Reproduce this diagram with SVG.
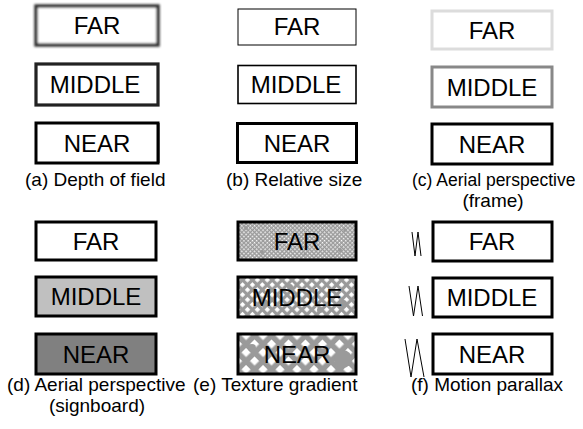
<svg xmlns="http://www.w3.org/2000/svg" width="583" height="429" viewBox="0 0 583 429">
<defs>
<style>
.lbl{font-family:"Liberation Sans",Arial,sans-serif;font-size:24px;fill:#000;text-anchor:middle}
.cap{font-family:"Liberation Sans",Arial,sans-serif;font-size:19px;fill:#000}
.capm{font-family:"Liberation Sans",Arial,sans-serif;font-size:19px;fill:#000;text-anchor:middle}
.box{fill:#fff;stroke:#000;stroke-width:3}
.zz{fill:none;stroke:#000;stroke-width:1}
</style>
<filter id="b1" x="-10%" y="-20%" width="120%" height="140%"><feGaussianBlur stdDeviation="1.1"/></filter>
<filter id="b2" x="-10%" y="-20%" width="120%" height="140%"><feGaussianBlur stdDeviation="0.7"/></filter>
<filter id="b3" x="-10%" y="-20%" width="120%" height="140%"><feGaussianBlur stdDeviation="0.35"/></filter>
<pattern id="t1" width="3" height="3" patternUnits="userSpaceOnUse" patternTransform="rotate(45)">
<rect width="3" height="3" fill="#9a9a9a"/><rect width="1.5" height="1.5" fill="#fff"/>
</pattern>
<pattern id="t2" width="7" height="7" patternUnits="userSpaceOnUse" patternTransform="rotate(45)">
<rect width="7" height="7" fill="#9a9a9a"/><rect width="3.8" height="3.8" fill="#fff"/>
</pattern>
<pattern id="t3" width="12" height="12" patternUnits="userSpaceOnUse" patternTransform="rotate(45)">
<rect width="12" height="12" fill="#9a9a9a"/><rect width="6.5" height="6.5" fill="#fff"/>
</pattern>
</defs>

<!-- (a) Depth of field -->
<g id="a-far">
<rect x="36" y="6" width="122" height="39" fill="#fff" stroke="#333" stroke-width="3.5" filter="url(#b1)"/>
<line x1="158.5" y1="6" x2="158.5" y2="45" stroke="#333" stroke-width="2" filter="url(#b1)"/>
<text class="lbl" x="97" y="34">FAR</text>
</g>
<g id="a-middle">
<rect x="36" y="64" width="122" height="41" fill="#fff" stroke="#222" stroke-width="3.2" filter="url(#b2)"/>
<line x1="158.5" y1="64" x2="158.5" y2="105" stroke="#222" stroke-width="2" filter="url(#b2)"/>
<text class="lbl" x="95" y="93">MIDDLE</text>
</g>
<g id="a-near">
<rect x="36" y="123" width="122" height="40" fill="#fff" stroke="#000" stroke-width="3" filter="url(#b3)"/>
<line x1="158.5" y1="123" x2="158.5" y2="163" stroke="#000" stroke-width="2"/>
<text class="lbl" x="97" y="152">NEAR</text>
</g>
<text class="cap" x="25" y="186">(a) Depth of field</text>

<!-- (b) Relative size -->
<g id="b-far">
<rect x="238" y="9" width="118" height="36" fill="#fff" stroke="#000" stroke-width="1"/>
<text class="lbl" x="297" y="35">FAR</text>
</g>
<g id="b-middle">
<rect x="238" y="65.5" width="118" height="38" fill="#fff" stroke="#000" stroke-width="1.6"/>
<text class="lbl" x="296" y="93">MIDDLE</text>
</g>
<g id="b-near">
<rect x="237.5" y="123.5" width="119" height="39" class="box"/>
<text class="lbl" x="297" y="152">NEAR</text>
</g>
<text class="cap" x="226" y="186">(b) Relative size</text>

<!-- (c) Aerial perspective (frame) -->
<g id="c-far">
<rect x="432" y="11" width="120" height="38" fill="#fff" stroke="#dcdcdc" stroke-width="3"/>
<text class="lbl" x="492" y="39">FAR</text>
</g>
<g id="c-middle">
<rect x="432" y="67" width="120" height="40" fill="#fff" stroke="#888" stroke-width="3"/>
<text class="lbl" x="492" y="96">MIDDLE</text>
</g>
<g id="c-near">
<rect x="432" y="124" width="120" height="40" class="box"/>
<text class="lbl" x="492" y="153">NEAR</text>
</g>
<text class="cap" x="412" y="186" style="font-size:17.5px">(c) Aerial perspective</text>
<text class="capm" x="493" y="207">(frame)</text>

<!-- (d) Aerial perspective (signboard) -->
<g id="d-far">
<rect x="36" y="222" width="120" height="38" class="box"/>
<text class="lbl" x="96" y="250">FAR</text>
</g>
<g id="d-middle">
<rect x="36" y="277" width="120" height="39" fill="#c0c0c0" stroke="#000" stroke-width="3"/>
<text class="lbl" x="96" y="305">MIDDLE</text>
</g>
<g id="d-near">
<rect x="36" y="334" width="120" height="40" fill="#808080" stroke="#000" stroke-width="3"/>
<text class="lbl" x="96" y="363">NEAR</text>
</g>
<text class="cap" x="7" y="391">(d) Aerial perspective</text>
<text class="capm" x="97" y="412">(signboard)</text>

<!-- (e) Texture gradient -->
<g id="e-far">
<rect x="238" y="222" width="118" height="38" fill="url(#t1)" stroke="#000" stroke-width="3"/>
<g fill="#9a9a9a"><circle cx="246" cy="228" r="2"/><circle cx="262" cy="252" r="2"/><circle cx="345" cy="230" r="1.8"/><circle cx="340" cy="250" r="2"/><circle cx="305" cy="254" r="1.5"/></g>
<text class="lbl" x="297" y="250">FAR</text>
</g>
<g id="e-middle">
<rect x="238" y="277" width="118" height="40" fill="url(#t2)" stroke="#000" stroke-width="3"/>
<g fill="#9a9a9a"><circle cx="264" cy="303" r="4"/><circle cx="290" cy="287" r="3"/><circle cx="343" cy="304" r="4"/><circle cx="320" cy="310" r="3"/></g>
<text class="lbl" x="297" y="306">MIDDLE</text>
</g>
<g id="e-near">
<rect x="238" y="334" width="118" height="40" fill="url(#t3)" stroke="#000" stroke-width="3"/>
<g fill="#9a9a9a"><circle cx="343" cy="359" r="9"/><circle cx="252" cy="348" r="4"/></g>
<text class="lbl" x="297" y="363">NEAR</text>
</g>
<text class="cap" x="193" y="391">(e) Texture gradient</text>

<!-- (f) Motion parallax -->
<g id="f-far">
<rect x="433" y="222" width="119" height="39" class="box"/>
<text class="lbl" x="492" y="250">FAR</text>
</g>
<g id="f-middle">
<rect x="433" y="278" width="119" height="39" class="box"/>
<text class="lbl" x="492" y="306">MIDDLE</text>
</g>
<g id="f-near">
<rect x="433" y="334" width="119" height="40" class="box"/>
<text class="lbl" x="492" y="363">NEAR</text>
</g>
<g id="connectors">
<polyline class="zz" points="412,232 415,256 418,232 421,256"/>
<polyline class="zz" points="409,286 413.5,316 418,286 422.5,316"/>
<polyline class="zz" points="405,339 411,377 417,339 424,377"/>
</g>
<text class="cap" x="411" y="391">(f) Motion parallax</text>
</svg>
